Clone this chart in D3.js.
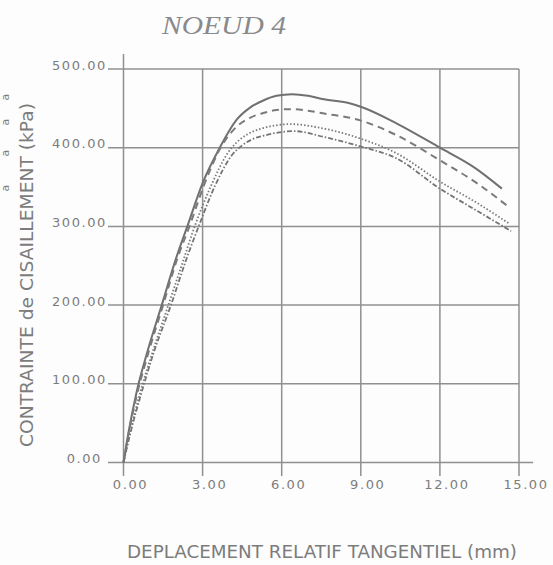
<!DOCTYPE html>
<html>
<head>
<meta charset="utf-8">
<script src="https://cdn.jsdelivr.net/npm/d3@7/dist/d3.min.js"></script>
<style>
  html, body { margin: 0; padding: 0; background: #fdfdfd; }
  svg { display: block; }
  text { fill: #7c7c7c; }
</style>
</head>
<body>
<svg id="chart" width="553" height="565"></svg>
<script>
// Shear stress vs. relative tangential displacement, node 4
const xTicks = [0, 3, 6, 9, 12, 15];
const yTicks = [0, 100, 200, 300, 400, 500];

// displacement (mm) / stress (kPa) pairs for each curve
const solidX = [0, 0.2, 0.5, 0.9, 1.45, 2.0, 2.42, 3.0, 3.65, 4.3, 4.8, 5.3, 5.8, 6.4, 7.0, 7.6, 8.5, 9.0, 10.35, 12.0, 13.3, 14.35];
const solidY = [0, 40, 90, 140, 200, 260, 300, 355, 400, 436, 451, 460, 466, 468, 466, 461.5, 457, 452, 431, 400, 375, 348];

const dashedX = [0, 0.2, 0.5, 0.95, 1.5, 2.05, 2.5, 3.05, 3.65, 4.3, 4.8, 5.3, 5.8, 6.4, 7.0, 7.56, 8.95, 10.35, 12.0, 13.4, 14.6];
const dashedY = [0, 38, 85, 140, 200, 260, 300, 352, 398, 427, 438, 444, 448, 449, 447, 443.7, 435, 416, 384, 355, 325];

const dottedX = [0, 0.25, 0.6, 1.1, 1.7, 2.25, 2.7, 3.3, 3.95, 4.3, 4.7, 5.2, 5.7, 6.3, 7.5, 8.95, 10.35, 12.0, 13.4, 14.65];
const dottedY = [0, 38, 85, 140, 200, 255, 300, 350, 393, 407, 417, 424, 428, 430, 425, 412, 393, 357, 330, 303];

const dashDotX = [0, 0.25, 0.65, 1.15, 1.8, 2.35, 2.85, 3.45, 4.1, 4.5, 4.9, 5.4, 5.9, 6.5, 7.56, 8.95, 10.35, 12.0, 13.4, 14.7];
const dashDotY = [0, 36, 85, 140, 200, 255, 300, 350, 390, 403, 411, 416, 419.5, 421, 414, 402, 386.5, 348, 320, 294];

const series = [
  { xs: solidX,   ys: solidY,   dash: null,          width: 2.0, color: "#707070" },
  { xs: dashedX,  ys: dashedY,  dash: "7,5",         width: 2.0, color: "#7a7a7a" },
  { xs: dottedX,  ys: dottedY,  dash: "1.5,2",       width: 1.8, color: "#7a7a7a" },
  { xs: dashDotX, ys: dashDotY, dash: "5,2,1.5,2",   width: 1.8, color: "#747474" }
];

const svg = d3.select("#chart");
const plotLeft = 123.5, plotRight = 519, plotTop = 69, plotBottom = 462.5;

const x = d3.scaleLinear().domain([0, 15]).range([plotLeft, plotRight]);
const y = d3.scaleLinear().domain([0, 500]).range([plotBottom, plotTop]);

const gridColor = "#909090";

// horizontal grid lines, running out left of the axis as ticks
svg.append("g").selectAll("line").data(yTicks).join("line")
  .attr("x1", 108).attr("x2", d => d === 0 ? 533 : plotRight)
  .attr("y1", d => y(d)).attr("y2", d => y(d))
  .attr("stroke", gridColor).attr("stroke-width", 1.5);

// vertical grid lines, running out below the axis as ticks
svg.append("g").selectAll("line").data(xTicks).join("line")
  .attr("x1", d => x(d)).attr("x2", d => x(d))
  .attr("y1", d => d === 0 ? 54 : plotTop).attr("y2", 476)
  .attr("stroke", gridColor).attr("stroke-width", 1.5);

const tickFont = sel => sel
  .style("font-family", "'DejaVu Sans'")
  .style("font-size", "13px")
  .style("letter-spacing", "1.6px");

// y tick labels
svg.append("g").selectAll("text").data(yTicks).join("text")
  .attr("x", d => d === 0 ? 102 : 107)
  .attr("y", d => y(d) - 4)
  .attr("dy", "0.35em")
  .attr("text-anchor", "end")
  .call(tickFont)
  .text(d => d3.format(".2f")(d));

// x tick labels
svg.append("g").selectAll("text").data(xTicks).join("text")
  .attr("x", d => x(d) + 7)
  .attr("y", 489)
  .attr("text-anchor", "middle")
  .call(tickFont)
  .text(d => d3.format(".2f")(d));

// curves
const line = d3.line()
  .x(d => x(d[0]))
  .y(d => y(d[1]))
  .curve(d3.curveMonotoneX);

svg.append("g").selectAll("path").data(series).join("path")
  .attr("d", s => line(d3.zip(s.xs, s.ys)))
  .attr("fill", "none")
  .attr("stroke", s => s.color)
  .attr("stroke-width", s => s.width)
  .attr("stroke-dasharray", s => s.dash);

// title
svg.append("text")
  .attr("x", 162).attr("y", 34)
  .attr("textLength", 124).attr("lengthAdjust", "spacingAndGlyphs")
  .style("font-family", "'Liberation Serif'")
  .style("font-style", "italic")
  .style("font-size", "26px")
  .style("fill", "#8a8a8a")
  .text("NOEUD 4");

// axis titles
svg.append("text")
  .attr("x", 127).attr("y", 558)
  .attr("textLength", 390).attr("lengthAdjust", "spacingAndGlyphs")
  .style("font-family", "'DejaVu Sans'")
  .style("font-size", "17px")
  .text("DEPLACEMENT RELATIF TANGENTIEL (mm)");

svg.append("text")
  .attr("transform", "translate(33,447) rotate(-90)")
  .attr("x", 0).attr("y", 0)
  .attr("textLength", 344).attr("lengthAdjust", "spacingAndGlyphs")
  .style("font-family", "'DejaVu Sans'")
  .style("font-size", "17px")
  .text("CONTRAINTE de CISAILLEMENT (kPa)");

// clipped glyphs along the left margin
svg.append("g").selectAll("text").data([97, 122, 153, 188]).join("text")
  .attr("transform", d => `translate(9,${d}) rotate(-90)`)
  .attr("text-anchor", "middle")
  .style("font-family", "'DejaVu Sans'")
  .style("font-size", "11px")
  .text("a");
</script>
</body>
</html>
